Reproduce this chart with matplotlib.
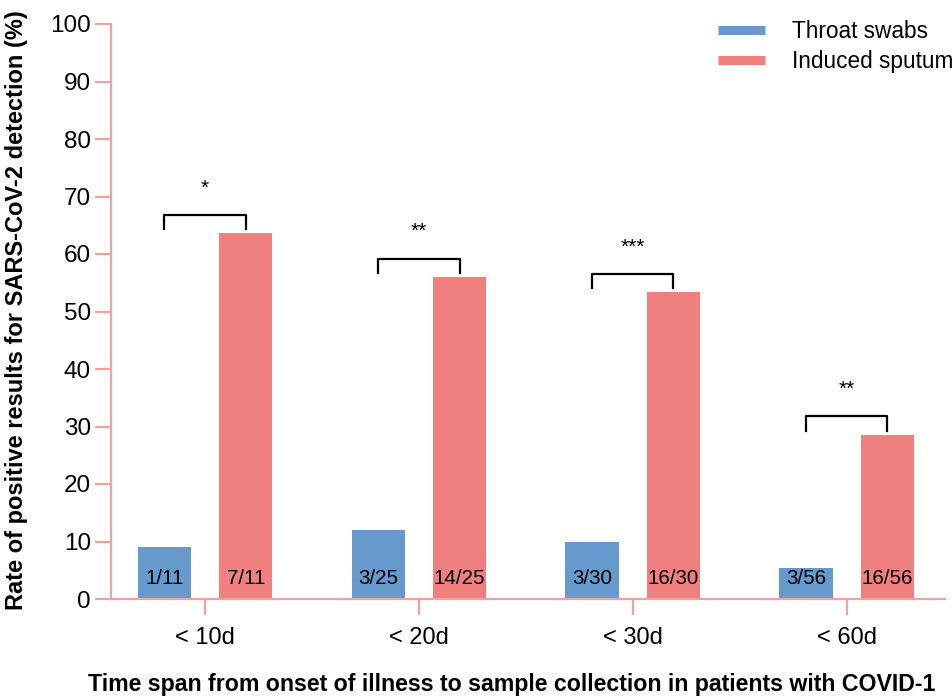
import matplotlib
matplotlib.use("Agg")
import matplotlib.pyplot as plt
import numpy as np
from matplotlib.lines import Line2D

plt.rcParams['font.family'] = ['Liberation Sans', 'DejaVu Sans']

categories = ["< 10d", "< 20d", "< 30d", "< 60d"]
throat_pos = [1, 3, 3, 3]
sputum_pos = [7, 14, 16, 16]
totals = [11, 25, 30, 56]
throat_rate = [9.09, 12.0, 10.0, 5.36]
sputum_rate = [63.64, 56.0, 53.33, 28.57]
significance = ["*", "**", "***", "**"]

blue = "#6699cc"
red = "#f08080"
axis_col = "#f4a0a0"

fig = plt.figure(figsize=(9.53, 6.96), dpi=100)
ax = fig.add_axes([111/953, 1-599/696, (945-111)/953, (599-24)/696])

x = np.arange(len(categories))
off = 0.19
w = 0.25
ax.bar(x - off, throat_rate, w, color=blue, zorder=2)
ax.bar(x + off, sputum_rate, w, color=red, zorder=2)

for i in range(len(categories)):
    ax.text(x[i] - off, 3.6, f"{throat_pos[i]}/{totals[i]}", ha='center', va='center', fontsize=14.8, zorder=3)
    ax.text(x[i] + off, 3.6, f"{sputum_pos[i]}/{totals[i]}", ha='center', va='center', fontsize=14.8, zorder=3)
    top = sputum_rate[i] + 3.2
    ax.plot([x[i] - off, x[i] - off, x[i] + off, x[i] + off],
            [top - 2.5, top, top, top - 2.5], color='black', lw=1.6, clip_on=False)
    ax.text(x[i], top + 3.7, significance[i], ha='center', va='baseline', fontsize=15)

ax.set_xlim(-0.44, 3.46)
ax.set_ylim(0, 100)
ax.set_yticks(np.arange(0, 101, 10))
ax.set_xticks(x)
ax.set_xticklabels(categories)

for s in ['top', 'right']:
    ax.spines[s].set_visible(False)
for s in ['left', 'bottom']:
    ax.spines[s].set_color(axis_col)
    ax.spines[s].set_linewidth(1.6)
ax.tick_params(axis='y', length=11.5, width=1.6, color=axis_col, labelsize=17.5, pad=3)
ax.tick_params(axis='x', length=11.5, width=1.6, color=axis_col, labelsize=17, pad=9)

ax.set_ylabel("Rate of positive results for SARS-CoV-2 detection (%)", fontsize=17, fontweight='bold')
ax.yaxis.set_label_coords(-83/834, (599-310)/575)

fig.text(88/953, 1-684/696, "Time span from onset of illness to sample collection in patients with COVID-1",
         fontsize=16.7, fontweight='bold', ha='left', va='center')

handles = [Line2D([0], [0], color=blue, lw=6.5, solid_capstyle='butt'),
           Line2D([0], [0], color=red, lw=6.5, solid_capstyle='butt')]
leg = ax.legend(handles, ["Throat swabs", "Induced sputum"], loc='upper right',
                bbox_to_anchor=(1.035, 1.042), frameon=False, fontsize=16.3,
                handlelength=2.07, handletextpad=1.2, labelspacing=0.3)

fig.savefig("out.png", dpi=100)
